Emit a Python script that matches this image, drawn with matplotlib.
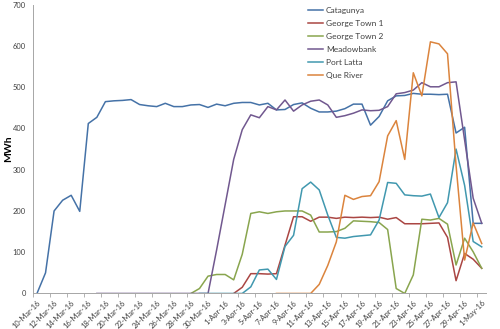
#quick remake of the daily generation chart (MWh per station)

import matplotlib
matplotlib.use('Agg')
import matplotlib.pyplot as plt
import numpy as np
import pandas as pd

nan = np.nan

dates = pd.date_range('2016-03-10', '2016-05-01', freq='D')
date_labels = [d.strftime('%d-%b-%y').lstrip('0') for d in dates]

catagunya = [0, 50, 200, 226, 238, 199, 412, 427, 465, 467, 468, 470, 458, 455, 453, 461, 453, 453,
             457, 458, 451, 459, 455, 461, 463, 463, 457, 461, 445, 446, 458, 462, 449, 440, 440, 442,
             448, 459, 459, 408, 429, 467, 479, 480, 485, 483, 483, 482, 483, 389, 403, 170, 170]
george_town_1 = [nan]*23 + [0, 15, 48, 48, 47, 48, 117, 186, 186, 175, 185, 185, 182, 185, 184, 185,
                            184, 185, 180, 184, 169, 169, 169, 170, 171, 136, 31, 97, 83, 61]
george_town_2 = [nan]*18 + [0, 12, 42, 46, 46, 33, 95, 194, 198, 194, 198, 200, 200, 200, 190, 149,
                            149, 150, 158, 176, 175, 174, 172, 155, 12, 0, 45, 180, 178, 182, 168, 69,
                            134, 101, 61]
meadowbank = [nan]*7 + [0]*14 + [105, 215, 325, 397, 433, 426, 453, 445, 469, 442, 457, 466, 469, 457,
                                 427, 431, 437, 445, 443, 444, 453, 484, 487, 493, 511, 501, 501, 511,
                                 513, 372, 231, 170]
port_latta = [nan]*19 + [0, 0, 0, 0, 0, 0, 16, 57, 59, 34, 114, 141, 254, 270, 251, 190, 136, 134, 138,
                         140, 142, 178, 269, 267, 239, 237, 236, 241, 184, 220, 350, 262, 126, 113]
que_river = [nan]*28 + [0, 0, 0, 0, 0, 22, 68, 125, 238, 228, 235, 237, 271, 382, 419, 325, 535, 479,
                        610, 605, 581, 310, 81, 171, 121]

series = [('Catagunya', catagunya, '#4572A7'),
          ('George Town 1', george_town_1, '#AA4643'),
          ('George Town 2', george_town_2, '#89A54E'),
          ('Meadowbank', meadowbank, '#71588F'),
          ('Port Latta', port_latta, '#4198AF'),
          ('Que River', que_river, '#DB843D')]

plt.rcParams['font.family'] = ['Lato', 'DejaVu Sans']

fig = plt.figure(figsize=(5, 3.29), dpi=100)
ax = fig.add_axes([0.0654, 0.108, 0.9066, 0.8777])

x = np.arange(len(dates))
for name, vals, col in series:
    ax.plot(x, vals, color=col, linewidth=1.1, label=name)

ax.set_xlim(-0.5, len(dates) - 0.5)
ax.set_ylim(0, 700)
ax.set_yticks(range(0, 701, 100))
ax.set_xticks(x[::2])
ax.set_xticklabels(date_labels[::2], rotation=45, ha='right', rotation_mode='anchor', fontsize=5.4, color='#404040')
ax.set_xticks(np.arange(-0.5, len(dates), 2), minor=True)
ax.tick_params(axis='x', which='major', length=0, pad=4)
ax.tick_params(axis='x', which='minor', length=3, color='#A6A6A6', width=0.6)
ax.tick_params(axis='y', length=0, pad=5, labelsize=5.4, labelcolor='#404040')

for s in ['top', 'right']:
    ax.spines[s].set_visible(False)
for s in ['left', 'bottom']:
    ax.spines[s].set_color('#A6A6A6')
    ax.spines[s].set_linewidth(0.7)

ax.set_ylabel('MWh', fontsize=7.5, fontweight='bold')
ax.yaxis.set_label_coords(-0.043, 0.5)

fig.legend(loc='upper left', bbox_to_anchor=(0.616, 0.978), bbox_transform=fig.transFigure,
           frameon=False, fontsize=6, handlelength=1.8, handletextpad=0.35, labelspacing=0.72,
           borderpad=0, borderaxespad=0, labelcolor='#404040')

plt.savefig('out.png', dpi=100)
